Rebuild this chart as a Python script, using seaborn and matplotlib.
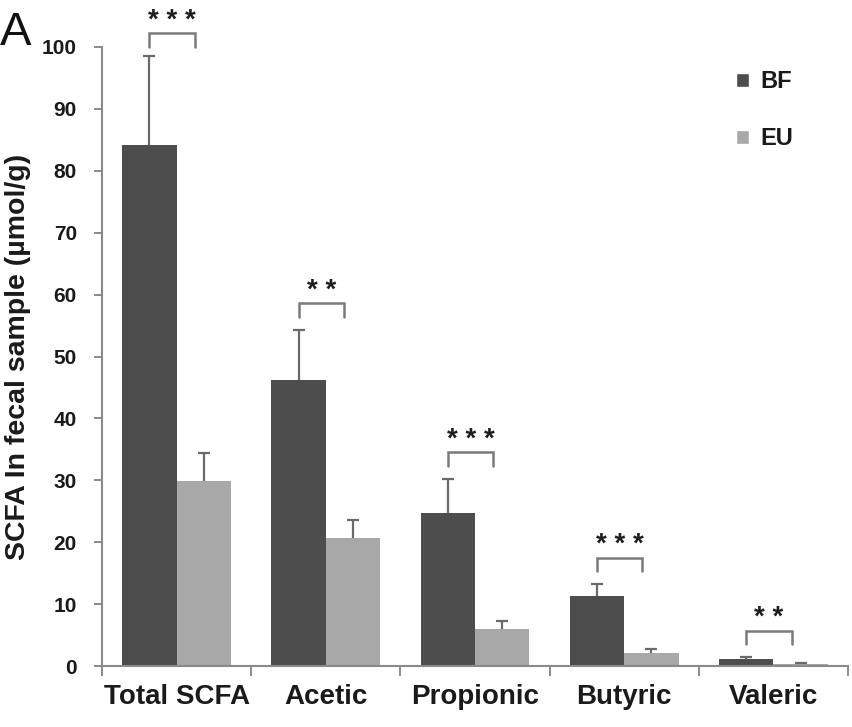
import numpy as np
import pandas as pd
import matplotlib
matplotlib.use("Agg")
import matplotlib.pyplot as plt
from matplotlib.patches import Patch
from matplotlib.ticker import FixedLocator, NullFormatter
import seaborn as sns

# SCFA concentrations in faecal samples (mean and upper error, µmol/g)
acids = ["Total SCFA", "Acetic", "Propionic", "Butyric", "Valeric"]
groups = ["BF", "EU"]
bf_mean = [84.2, 46.2, 24.7, 11.3, 1.1]
bf_err = [14.3, 8.1, 5.5, 1.9, 0.3]
eu_mean = [29.9, 20.7, 6.0, 2.1, 0.4]
eu_err = [4.5, 2.9, 1.3, 0.6, 0.1]
signif = ["***", "**", "***", "***", "**"]
yticks = list(range(0, 101, 10))

dark = "#4d4d4d"
light = "#a8a8a8"
axis_grey = "#8a8a8a"

df = pd.DataFrame({
    "acid": acids * 2,
    "group": ["BF"] * len(acids) + ["EU"] * len(acids),
    "value": bf_mean + eu_mean,
    "err": bf_err + eu_err,
})

sns.set_theme(style="white")
plt.rcParams["font.family"] = ["Liberation Sans", "DejaVu Sans"]

fig = plt.figure(figsize=(8.53, 7.27), dpi=100)
ax = fig.add_axes([102 / 853, 61 / 727, 746 / 853, 619 / 727])

sns.barplot(data=df, x="acid", y="value", hue="group", order=acids,
            hue_order=groups, palette=[dark, light], width=0.73,
            errorbar=None, saturation=1, linewidth=0, ax=ax, legend=False)

# upper-only error bars placed on the seaborn bars
bars = ax.patches[:2 * len(acids)]
centers = {}
for gi, g in enumerate(groups):
    sub = df[df.group == g]
    for ci, acid in enumerate(acids):
        p = bars[gi * len(acids) + ci]
        cx = p.get_x() + p.get_width() / 2
        centers[(g, ci)] = cx
        m = sub.value.iloc[ci]
        e = sub.err.iloc[ci]
        _, caps, _ = ax.errorbar([cx], [m], yerr=[[0], [e]], fmt="none",
                                 ecolor="#6a6a6a", elinewidth=1.6, capsize=4.5,
                                 capthick=1.6, clip_on=False, zorder=3)
        caps[0].set_visible(False)

# significance brackets above each pair
for ci, acid in enumerate(acids):
    top = max(bf_mean[ci] + bf_err[ci], eu_mean[ci] + eu_err[ci])
    y0 = top + 2.1 if ci > 0 else top + 1.5
    y1 = y0 + 2.2
    x0 = centers[("BF", ci)]
    x1 = centers[("EU", ci)] - 0.06
    ax.plot([x0, x0, x1, x1], [y0, y1, y1, y0], color="#7a7a7a", lw=1.8,
            clip_on=False, solid_joinstyle="miter", zorder=3)
    ax.text((x0 + x1) / 2, y1 + 0.9, " ".join(signif[ci]), ha="center",
            va="baseline", fontsize=20, fontweight="bold", color="#1e1e1e",
            clip_on=False)

ax.set_xlim(-0.5, len(acids) - 0.5)
ax.set_ylim(0, 100)
ax.set_yticks(yticks)
ax.set_yticklabels([str(t) for t in yticks])

# category labels at centres, tick marks at category boundaries
ax.xaxis.set_minor_locator(FixedLocator(np.arange(-0.5, len(acids), 1.0)))
ax.xaxis.set_minor_formatter(NullFormatter())
ax.tick_params(axis="x", which="major", length=0, pad=13, labelsize=20,
               labelcolor="#1a1a1a")
ax.tick_params(axis="x", which="minor", length=7, width=1.4, color=axis_grey,
               direction="out", bottom=True)
ax.tick_params(axis="y", length=6, width=1.4, color=axis_grey, direction="out",
               left=True, pad=12, labelsize=15, labelcolor="#1a1a1a")
for lab in ax.get_xticklabels() + ax.get_yticklabels():
    lab.set_fontweight("bold")

sns.despine(ax=ax)
for s in ("left", "bottom"):
    ax.spines[s].set_color(axis_grey)
    ax.spines[s].set_linewidth(1.5)

ax.set_xlabel("")
ax.set_ylabel("SCFA In fecal sample (µmol/g)", fontsize=20.5,
              fontweight="bold", color="#1a1a1a", labelpad=8)

handles = [Patch(facecolor=dark, label="BF"), Patch(facecolor=light, label="EU")]
leg = ax.legend(handles=handles, loc="upper left", bbox_to_anchor=(0.822, 0.997),
                frameon=False, fontsize=17, handlelength=0.55,
                handleheight=0.55, handletextpad=0.45, labelspacing=1.45)
for t in leg.get_texts():
    t.set_fontweight("bold")
    t.set_color("#1a1a1a")

fig.text(0.0, 1 - 45 / 727, "A", fontsize=34, ha="left", va="baseline",
         color="#111111")

fig.savefig("out.png", dpi=100, facecolor="white")
